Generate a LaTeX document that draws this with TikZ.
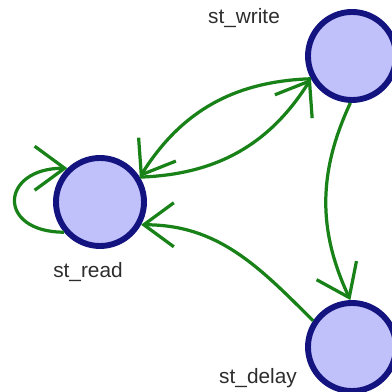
\documentclass[tikz,border=0pt]{standalone}
\usepackage{fontspec}
\setmainfont{Liberation Sans}
\usetikzlibrary{arrows.meta}
\definecolor{statefill}{RGB}{192,192,250}
\definecolor{stateline}{RGB}{20,20,128}
\definecolor{transgreen}{RGB}{24,130,24}
\definecolor{lbltext}{RGB}{45,45,45}
\tikzset{
  state/.style={circle,draw=stateline,fill=statefill,line width=4.2pt,minimum size=2.2cm,inner sep=0pt},
  trans/.style={->,draw=transgreen,line width=2.3pt,>={Straight Barb[length=7.5mm,width=11mm]}},
  lbl/.style={text=lbltext,font=\fontsize{14.8}{17}\selectfont,inner sep=0pt}
}
\begin{document}
\begin{tikzpicture}[x=0.025cm,y=0.025cm]
        \useasboundingbox (0,0) rectangle (392,392);
        \node[state] (read) at (100,190) {};
        \node[state] (write) at (352,336) {};
        \node[state] (delay) at (352,45) {};
        \node[lbl] (readlbl) at (88,120) {st\_read};
        \node[lbl] (writelbl) at (244,374) {st\_write};
        \node[lbl] (delaylbl) at (258,14) {st\_delay};
        \draw[trans] (read.32) to[bend right=28] (write.209);
        \draw[trans] (write.209) to[bend right=28] (read.32);
        \draw[trans] (write.268) to[bend right=25] (delay.92);
        \draw[trans] (delay.146) to[out=135,in=0] (read.331);
        \draw[trans] (read.220) to[out=180,in=180,looseness=2.7] (read.134);
    \end{tikzpicture}
\end{document}
